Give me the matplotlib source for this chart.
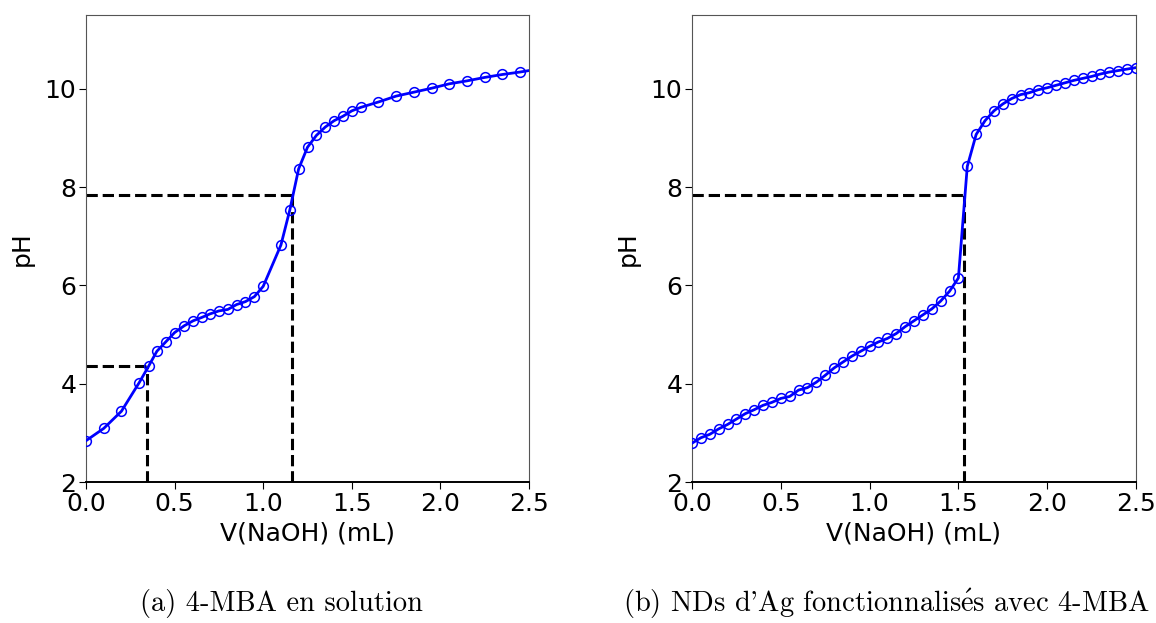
import numpy as np
import matplotlib.pyplot as plt

plt.rcParams['mathtext.fontset'] = 'cm'

# (a) 4-MBA en solution
v_a = [0.0, 0.10, 0.20, 0.30, 0.354, 0.40, 0.45, 0.50, 0.555, 0.605, 0.655,
       0.70, 0.75, 0.80, 0.85, 0.90, 0.95, 1.0, 1.10, 1.15, 1.20, 1.25, 1.30,
       1.35, 1.40, 1.45, 1.50, 1.55, 1.65, 1.75, 1.85, 1.95, 2.05, 2.15, 2.25,
       2.35, 2.45]
ph_a = [2.84, 3.09, 3.44, 4.02, 4.36, 4.66, 4.85, 5.04, 5.18, 5.28, 5.35,
        5.42, 5.48, 5.51, 5.61, 5.67, 5.77, 5.98, 6.82, 7.53, 8.37, 8.81, 9.05,
        9.22, 9.35, 9.44, 9.55, 9.62, 9.73, 9.85, 9.93, 10.01, 10.10, 10.16,
        10.23, 10.29, 10.34]
# end of fitted line (no marker)
v_a_end, ph_a_end = 2.5, 10.37
# equivalence points (V, pH)
eq_a = [(0.342, 4.36), (1.16, 7.84)]

# (b) NDs d'Ag fonctionnalises avec 4-MBA
v_b = [0.0, 0.05, 0.10, 0.15, 0.20, 0.25, 0.30, 0.35, 0.40, 0.45, 0.50,
       0.55, 0.60, 0.65, 0.70, 0.75, 0.80, 0.85, 0.90, 0.95, 1.00, 1.05,
       1.10, 1.15, 1.20, 1.25, 1.30, 1.35, 1.40, 1.45, 1.50, 1.55, 1.60,
       1.65, 1.70, 1.75, 1.80, 1.85, 1.90, 1.95, 2.00, 2.05, 2.10, 2.15,
       2.20, 2.25, 2.30, 2.35, 2.40, 2.45, 2.50]
ph_b = [2.79, 2.90, 2.97, 3.08, 3.17, 3.28, 3.39, 3.47, 3.56, 3.62, 3.70,
        3.74, 3.87, 3.92, 4.03, 4.17, 4.32, 4.44, 4.56, 4.66, 4.76, 4.85,
        4.92, 5.02, 5.16, 5.28, 5.40, 5.52, 5.68, 5.88, 6.15, 8.42, 9.07,
        9.35, 9.55, 9.69, 9.80, 9.88, 9.92, 9.98, 10.02, 10.07, 10.12, 10.17,
        10.21, 10.25, 10.30, 10.34, 10.37, 10.40, 10.43]
eq_b = [(1.534, 7.84)]

# caption (b) written with a math accent so that the e-acute stays in Computer Modern
captions = ["(a) 4-MBA en solution",
            r"(b) NDs d'Ag fonctionnalis$\mathrm{\acute{e}}$s avec 4-MBA"]

W, H = 1156, 623
fig = plt.figure(figsize=(W / 100, H / 100), dpi=100)


def make_ax(x0, x1, y0, y1):
    return fig.add_axes([x0 / W, 1 - y1 / H, (x1 - x0) / W, (y1 - y0) / H])


def panel(ax, v, ph, eqs, line_v=None, line_ph=None):
    lv = v if line_v is None else line_v
    lp = ph if line_ph is None else line_ph
    ax.plot(lv, lp, color='blue', lw=2, zorder=3)
    ax.plot(v, ph, 'o', mfc='none', mec='blue', ms=7, mew=1.1, zorder=4)
    for xe, ye in eqs:
        ax.plot([0, xe], [ye, ye], '--', color='black', lw=2.2, zorder=2)
        ax.plot([xe, xe], [2, ye], '--', color='black', lw=2.2, zorder=2)
    ax.set_xlim(0, 2.5)
    ax.set_ylim(2, 11.5)
    ax.set_xticks(np.arange(0, 2.51, 0.5))
    ax.set_yticks([2, 4, 6, 8, 10])
    ax.tick_params(labelsize=18, length=5, pad=2)
    ax.set_xlabel("V(NaOH) (mL)", fontsize=18, labelpad=4)
    ax.set_ylabel("pH", fontsize=18, labelpad=8)
    for s in ['top', 'left', 'right']:
        ax.spines[s].set_color('#555555')
    ax.spines['bottom'].set_linewidth(1.4)


ax1 = make_ax(86, 529, 15, 482)
panel(ax1, v_a, ph_a, eq_a, v_a + [v_a_end], ph_a + [ph_a_end])
ax2 = make_ax(692, 1136, 15, 482)
panel(ax2, v_b, ph_b, eq_b)

cap_font = ['cmr10', 'DejaVu Serif']
fig.text(281 / W, 1 - 604 / H, captions[0], ha='center', va='center',
         fontsize=20.5, family=cap_font)
fig.text(886 / W, 1 - 604 / H, captions[1], ha='center', va='center',
         fontsize=20.5, family=cap_font)

fig.savefig("out.png", dpi=100)
